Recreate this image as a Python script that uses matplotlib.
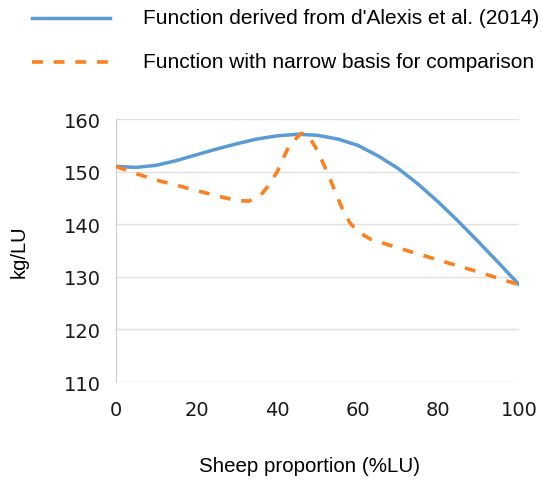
import numpy as np
import matplotlib.pyplot as plt
from matplotlib.lines import Line2D

# sheep proportion (%LU)
x_blue = [0, 5, 10, 15, 20, 25, 30, 35, 40, 45, 50, 55, 60, 65, 70, 75, 80, 85, 90, 95, 100]
y_blue = [151.0, 150.8, 151.2, 152.1, 153.2, 154.3, 155.3, 156.2, 156.8, 157.1, 156.9,
          156.2, 155.0, 153.0, 150.6, 147.6, 144.2, 140.5, 136.6, 132.6, 128.5]

x_orange = [0, 5, 10, 15, 20, 25, 30, 33, 36, 38, 40, 43, 46, 48, 50, 53, 56, 58, 60, 63,
            70, 80, 90, 100]
y_orange = [151.0, 149.6, 148.4, 147.4, 146.4, 145.4, 144.5, 144.4, 145.6, 147.5, 150.0,
            155.0, 157.3, 156.5, 154.0, 148.8, 143.2, 140.3, 138.6, 137.2, 135.5, 133.2,
            130.9, 128.5]

x_ticks = [0, 20, 40, 60, 80, 100]
y_ticks = [110, 120, 130, 140, 150, 160]

label_blue = "Function derived from d'Alexis et al. (2014)"
label_orange = "Function with narrow basis for comparison"

fig = plt.figure(figsize=(5.42, 4.81), dpi=100)
ax = fig.add_axes([0.214, 0.2037, 0.7436, 0.5468])

blue = '#5b9bd5'
orange = '#fd7f1e'

ax.plot(x_blue, y_blue, color=blue, lw=2.5, solid_capstyle='round', solid_joinstyle='round', zorder=3)
ax.plot(x_orange, y_orange, color=orange, lw=2.6, dashes=(3.0, 3.0), zorder=4)

ax.set_xlim(0, 100)
ax.set_ylim(110, 160)
ax.set_xticks(x_ticks)
ax.set_yticks(y_ticks)
ax.grid(axis='y', color='#e4e0de', lw=1)
ax.set_axisbelow(True)
for s in ['top', 'right', 'bottom']:
    ax.spines[s].set_visible(False)
ax.spines['left'].set_color('#cccccc')
ax.tick_params(length=0, labelsize=14, colors='#1a1a1a', pad=11)
ax.tick_params(axis='x', pad=13)

ax.set_xlabel('Sheep proportion (%LU)', fontsize=14.8, family='Liberation Sans')
ax.set_ylabel('kg/LU', fontsize=14.5, family='Liberation Sans')
ax.xaxis.set_label_coords(0.48, -0.3156)
ax.yaxis.set_label_coords(-0.2407, 0.5)
ax.xaxis.label.set_va('center')
ax.yaxis.label.set_va('center')

# legend drawn above the plot
fig.add_artist(Line2D([32 / 542, 110 / 542], [1 - 19 / 481, 1 - 19 / 481], color=blue, lw=2.5))
fig.add_artist(Line2D([32 / 542, 110 / 542], [1 - 63 / 481, 1 - 63 / 481], color=orange, lw=2.6,
                      dashes=(3.0, 3.0)))
fig.text(143 / 542, 1 - 19 / 481, label_blue, fontsize=15, family='Liberation Sans', va='center')
fig.text(143 / 542, 1 - 63 / 481, label_orange, fontsize=15, family='Liberation Sans', va='center')

fig.savefig('out.png', dpi=100)
